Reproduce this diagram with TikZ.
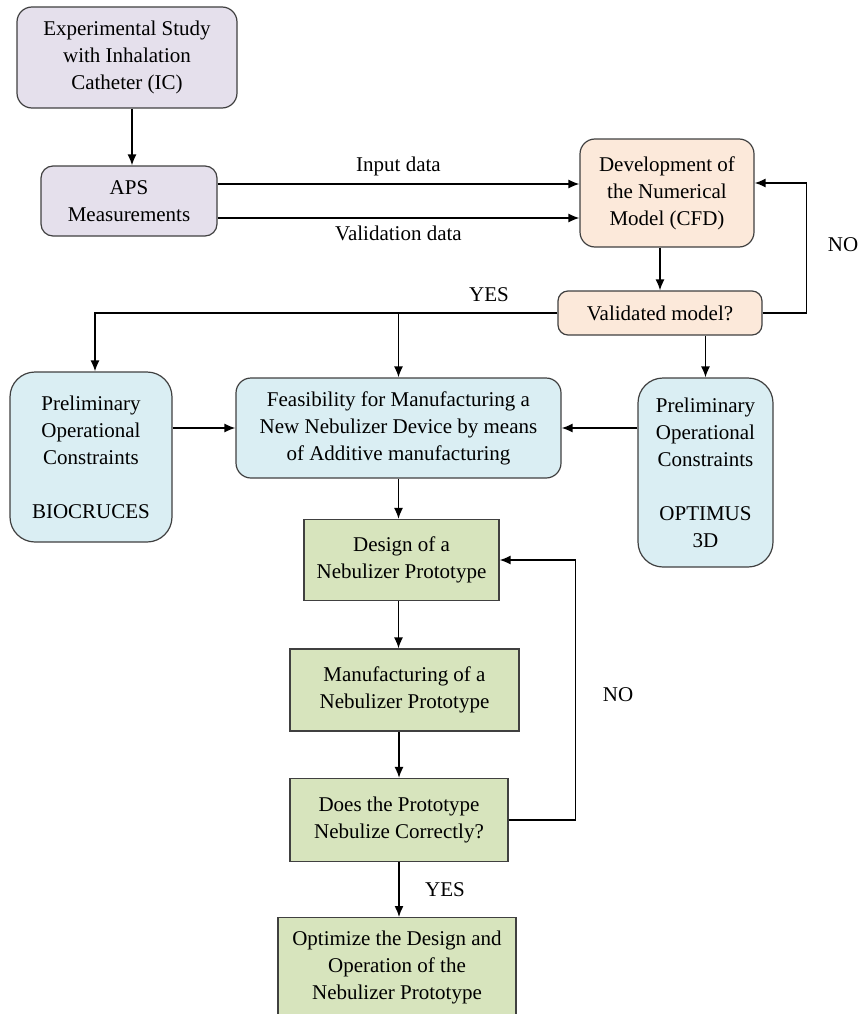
\documentclass[tikz,border=0pt]{standalone}
\usepackage{fontspec}
\setmainfont{Liberation Serif}
\usetikzlibrary{arrows.meta,calc}
\definecolor{lav}{RGB}{229,224,236}
\definecolor{peach}{RGB}{252,233,218}
\definecolor{sky}{RGB}{218,238,243}
\definecolor{olive}{RGB}{215,228,189}
\tikzstyle{rbox}=[rectangle,rounded corners=15pt,draw=black!75,line width=1.2pt,align=center,inner sep=0pt,font=\fontsize{21}{27}\selectfont]
\tikzstyle{sbox}=[rectangle,draw=black!75,line width=1.2pt,align=center,inner sep=0pt,fill=olive,font=\fontsize{21}{27}\selectfont]
\tikzstyle{lbl}=[font=\fontsize{21}{27}\selectfont]
\tikzstyle{dgraph}=[->,>={Latex[length=11pt,width=9pt]},line width=1.5pt]

\begin{document}
\begin{tikzpicture}[x=1pt,y=-1pt,dgraph]
\clip (0,0) rectangle (861,1014);
\node[rbox,fill=lav,minimum width=220pt,minimum height=101pt] (E) at (127,57.5) {Experimental Study\\with Inhalation\\Catheter (IC)};
\node[rbox,fill=lav,minimum width=176pt,minimum height=70pt,rounded corners=12pt] (A) at (129,201) {APS\\Measurements};
\node[rbox,fill=peach,minimum width=174pt,minimum height=108pt] (N) at (667,193) {Development of\\the Numerical\\Model (CFD)};
\node[rbox,fill=peach,minimum width=204pt,minimum height=44pt,rounded corners=10pt] (V) at (660,313) {Validated model?};
\node[rbox,fill=sky,minimum width=162pt,minimum height=170pt,rounded corners=25pt] (B) at (91,457) {Preliminary\\Operational\\Constraints\\~\\BIOCRUCES};
\node[rbox,fill=sky,minimum width=325pt,minimum height=100pt] (F) at (398.5,428) {Feasibility for Manufacturing a\\New Nebulizer Device by means\\of Additive manufacturing};
\node[rbox,fill=sky,minimum width=135pt,minimum height=189pt,rounded corners=25pt] (O) at (705.5,472.5) {Preliminary\\Operational\\Constraints\\~\\OPTIMUS\\3D};
\node[sbox,minimum width=195pt,minimum height=81pt] (D) at (401.5,560) {Design of a\\Nebulizer Prototype};
\node[sbox,minimum width=229pt,minimum height=82pt] (M) at (404.5,690) {Manufacturing of a\\Nebulizer Prototype};
\node[sbox,minimum width=218pt,minimum height=83pt] (Q) at (399,820) {Does the Prototype\\Nebulize Correctly?};
\node[sbox,minimum width=238pt,minimum height=100pt,anchor=north] (P) at (397,917) {Optimize the Design and\\Operation of the\\Nebulizer Prototype};
\draw([xshift=5pt]E.south)--([xshift=5pt]E.south|-A.north);
\draw([yshift=17pt]A.east)--node[lbl,above=4pt]{Input data}([yshift=17pt]A.east-|N.west);
\draw([yshift=-17pt]A.east)--node[lbl,below=4pt]{Validation data}([yshift=-17pt]A.east-|N.west);
\draw(N.south-|V.north)--(V.north);
\draw(V.east)--++(44,0)|-([yshift=10pt]N.east);
\node[lbl] (no1) at (843,245) {NO};
\draw(V.west)-|([xshift=4pt]B.north);
\draw(F.north|-V.west)--(F.north);
\node[lbl] (yes1) at (489,295) {YES};
\draw(V.south-|O.north)--(O.north);
\draw(B.east|-F.west)--(F.west);
\draw(O.west|-F.east)--(F.east);
\draw(F.south)--(F.south|-D.north);
\draw(F.south|-D.south)--(F.south|-M.north);
\draw(Q.north|-M.south)--(Q.north);
\draw(Q.south)--node[lbl,right=22pt]{YES}(Q.south|-P.north);
\draw(Q.east)--++(67,0)|-(D.east);
\node[lbl] (no2) at (618,695) {NO};
\end{tikzpicture}
\end{document}
